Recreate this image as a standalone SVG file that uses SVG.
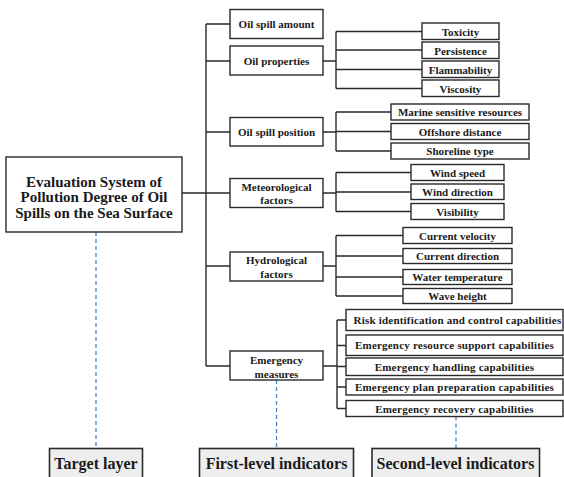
<svg xmlns="http://www.w3.org/2000/svg" width="564" height="477" viewBox="0 0 564 477">
<style>
.bx{fill:#fff;stroke:#2a2a2a;stroke-width:1.4}
.lb{fill:#eeeeee;stroke:#2a2a2a;stroke-width:1.6}
.t{font-family:"Liberation Serif","Times New Roman",serif;font-weight:bold;fill:#1a1a1a;text-anchor:middle}
.s{font-size:11px}
.m{font-size:15px}
.L{font-size:16px}
.c{stroke:#2a2a2a;stroke-width:1.4;fill:none}
.d{stroke:#4f84b8;stroke-width:1.3;stroke-dasharray:4,3;fill:none}
</style>
<g id="connectors">
<path class="c" d="M182,193H206M206,24V366M206,24H230M206,61H230M206,132H230M206,193H230M206,266H230M206,366H230"/>
<path class="c" d="M323,61H336M336,31.5V88.5M336,31.5H422M336,50H422M336,69.5H422M336,88.5H422"/>
<path class="c" d="M323,132H336M336,112V151M336,112H391M336,131.5H391M336,151H391"/>
<path class="c" d="M323,193H336M336,172.5V211.5M336,172.5H411M336,192H411M336,211.5H411"/>
<path class="c" d="M323,266H336M336,235.5V296M336,235.5H403M336,256H403M336,277H403M336,296H403"/>
<path class="c" d="M323,366H337M337,320V408.5M337,320H346M337,345.5H346M337,366.5H346M337,387H346M337,408.5H346"/>
<path class="d" d="M96,232V448M276.5,380V448M456,416.5V448"/>
</g>
<g id="root"><rect class="bx" x="6" y="157" width="176" height="75"/>
<text class="t m" x="94" y="186.5">Evaluation System of</text>
<text class="t m" x="94" y="202">Pollution Degree of Oil</text>
<text class="t m" x="94" y="217.5">Spills on the Sea Surface</text></g>
<g id="n1"><rect class="bx" x="230" y="9.5" width="93" height="29"/><text class="t s" x="276.5" y="28">Oil spill amount</text></g>
<g id="n2"><rect class="bx" x="230" y="46" width="93" height="29"/><text class="t s" x="276.5" y="64.5">Oil properties</text></g>
<g id="n3"><rect class="bx" x="230" y="117.5" width="93" height="28.5"/><text class="t s" x="276.5" y="136">Oil spill position</text></g>
<g id="n4"><rect class="bx" x="230" y="178.5" width="93" height="29"/><text class="t s" x="276.5" y="190.5">Meteorological</text><text class="t s" x="276.5" y="204">factors</text></g>
<g id="n5"><rect class="bx" x="230" y="252" width="93" height="29"/><text class="t s" x="276.5" y="264">Hydrological</text><text class="t s" x="276.5" y="277.5">factors</text></g>
<g id="n6"><rect class="bx" x="230" y="351" width="93" height="29"/><text class="t s" x="276.5" y="364">Emergency</text><text class="t s" x="276.5" y="377.5">measures</text></g>
<g id="p1"><rect class="bx" x="422" y="23" width="77" height="16.5"/><text class="t s" x="460.5" y="35.5">Toxicity</text></g>
<g id="p2"><rect class="bx" x="422" y="42" width="77" height="16.5"/><text class="t s" x="460.5" y="54.5">Persistence</text></g>
<g id="p3"><rect class="bx" x="422" y="61" width="77" height="16.5"/><text class="t s" x="460.5" y="73.5">Flammability</text></g>
<g id="p4"><rect class="bx" x="422" y="80" width="77" height="16.5"/><text class="t s" x="460.5" y="92.5">Viscosity</text></g>
<g id="q1"><rect class="bx" x="391" y="104" width="138" height="16"/><text class="t s" x="460" y="116">Marine sensitive resources</text></g>
<g id="q2"><rect class="bx" x="391" y="123.5" width="138" height="16"/><text class="t s" x="460" y="135.5">Offshore distance</text></g>
<g id="q3"><rect class="bx" x="391" y="143" width="138" height="16"/><text class="t s" x="460" y="155">Shoreline type</text></g>
<g id="r1"><rect class="bx" x="411" y="164.5" width="93" height="16"/><text class="t s" x="457.5" y="176.5">Wind speed</text></g>
<g id="r2"><rect class="bx" x="411" y="184" width="93" height="15.5"/><text class="t s" x="457.5" y="195.8">Wind direction</text></g>
<g id="r3"><rect class="bx" x="411" y="203.5" width="93" height="16"/><text class="t s" x="457.5" y="215.5">Visibility</text></g>
<g id="h1"><rect class="bx" x="403" y="227.5" width="109" height="16"/><text class="t s" x="457.5" y="239.5">Current velocity</text></g>
<g id="h2"><rect class="bx" x="403" y="248.5" width="109" height="15"/><text class="t s" x="457.5" y="260">Current direction</text></g>
<g id="h3"><rect class="bx" x="403" y="269.5" width="109" height="15"/><text class="t s" x="457.5" y="281">Water temperature</text></g>
<g id="h4"><rect class="bx" x="403" y="288.5" width="109" height="15"/><text class="t s" x="457.5" y="300">Wave height</text></g>
<g id="e1"><rect class="bx" x="346" y="309.5" width="217" height="21"/><text class="t s" x="457.5" y="324" letter-spacing="0.2">Risk identification and control capabilities</text></g>
<g id="e2"><rect class="bx" x="346" y="335" width="217" height="20.5"/><text class="t s" x="454.5" y="349.3" letter-spacing="0.2">Emergency resource support capabilities</text></g>
<g id="e3"><rect class="bx" x="346" y="358" width="217" height="17.5"/><text class="t s" x="454.5" y="370.8" letter-spacing="0.2">Emergency handling capabilities</text></g>
<g id="e4"><rect class="bx" x="346" y="379" width="217" height="16"/><text class="t s" x="454.5" y="391" letter-spacing="0.2">Emergency plan preparation capabilities</text></g>
<g id="e5"><rect class="bx" x="346" y="400.5" width="217" height="16"/><text class="t s" x="454.5" y="412.5" letter-spacing="0.2">Emergency recovery capabilities</text></g>
<g id="lab1"><rect class="lb" x="49.5" y="448.5" width="93" height="35"/><text class="t L" x="96" y="468.5">Target layer</text></g>
<g id="lab2"><rect class="lb" x="199.5" y="448.5" width="154" height="35"/><text class="t L" x="276.5" y="468.5">First-level indicators</text></g>
<g id="lab3"><rect class="lb" x="372" y="448.5" width="167.5" height="35"/><text class="t L" x="455.5" y="468.5">Second-level indicators</text></g>
</svg>
